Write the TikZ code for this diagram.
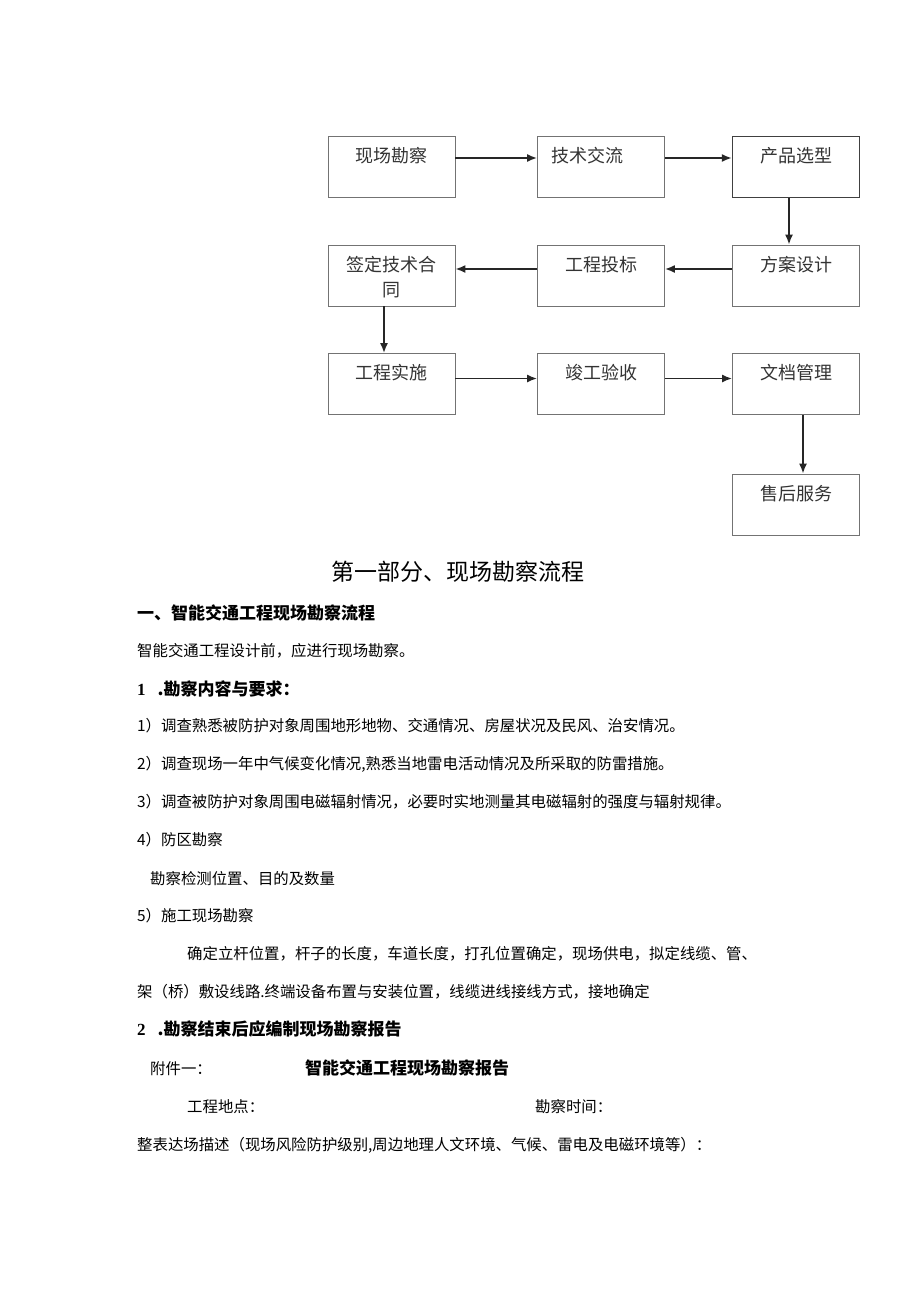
\documentclass[tikz,border=0pt]{standalone}
\usepackage{fontspec}
\setmainfont{Noto Sans CJK SC}
\newfontfamily\tms{Liberation Serif}
\usetikzlibrary{arrows.meta}

\begin{document}
\begin{tikzpicture}[x=1pt,y=-1pt,
    box/.style={draw=black!55, line width=0.8pt, minimum width=127pt, text width=100pt,
      align=center, inner xsep=2pt, inner ysep=4pt, text height=22pt, text depth=31pt,
      font=\fontsize{18}{25}\selectfont, text=black!80},
    arr/.style={-{Latex[length=10pt,width=8pt]}, line width=1.7pt, black!85},
    txt/.style={anchor=base west, inner sep=0pt, font=\fontsize{15.4}{18}\selectfont},
    hd/.style={anchor=base west, inner sep=0pt, font=\fontsize{17}{20}\selectfont\bfseries}]
      \useasboundingbox (0,0) rectangle (920,1301);

      % flow chart
      \node[box] (b1)  at (391.5, 167){现场勘察};
      \node[box] (b2)  at (601, 167){技术交流\kern28pt};
      \node[box, draw=black!75, line width=1.3pt] (b3)  at (796, 167){产品选型};
      \node[box] (b4)  at (391.5, 275.5){签定技术合\\同};
      \node[box] (b5)  at (601, 275.5){工程投标};
      \node[box] (b6)  at (796, 275.5){方案设计};
      \node[box] (b7)  at (391.5, 384){工程实施};
      \node[box] (b8)  at (601, 384){竣工验收};
      \node[box] (b9)  at (796, 384){文档管理};
      \node[box] (b10) at (796, 504.5){售后服务};

      \draw[arr] ([yshift=9]b1.east) -- ([yshift=9]b2.west);
      \draw[arr] ([yshift=9]b2.east) -- ([yshift=9]b3.west);
      \draw[arr] ([xshift=-7]b3.south) -- ([xshift=-7]b6.north);
      \draw[arr] ([yshift=6.5]b6.west) -- ([yshift=6.5]b5.east);
      \draw[arr] ([yshift=6.5]b5.west) -- ([yshift=6.5]b4.east);
      \draw[arr] ([xshift=-7.5]b4.south) -- ([xshift=-7.5]b7.north);
      \draw[arr] ([yshift=5.5]b7.east) -- ([yshift=5.5]b8.west);
      \draw[arr] ([yshift=5.5]b8.east) -- ([yshift=5.5]b9.west);
      \draw[arr] ([xshift=7]b9.south) -- ([xshift=7]b10.north);

      % text
      \node[anchor=base, inner sep=0pt, font=\fontsize{23}{26}\selectfont] (title) at (458, 580){第一部分、现场勘察流程};
      \node[hd]  (h1) at (137, 619){一、智能交通工程现场勘察流程};
      \node[txt] (p1) at (137, 656.5){智能交通工程设计前，应进行现场勘察。};
      \node[hd]  (h2) at (137, 695){{\tms 1}\hspace{12pt}.勘察内容与要求：};
      \node[txt] (i1) at (137, 731.5){1）调查熟悉被防护对象周围地形地物、交通情况、房屋状况及民风、治安情况。};
      \node[txt] (i2) at (137, 769.5){2）调查现场一年中气候变化情况,熟悉当地雷电活动情况及所采取的防雷措施。};
      \node[txt] (i3) at (137, 807.5){3）调查被防护对象周围电磁辐射情况，必要时实地测量其电磁辐射的强度与辐射规律。};
      \node[txt] (i4) at (137, 845.5){4）防区勘察};
      \node[txt] (i4a) at (150, 884.5){勘察检测位置、目的及数量};
      \node[txt] (i5) at (137, 921.5){5）施工现场勘察};
      \node[txt] (i5a) at (187, 959.5){确定立杆位置，杆子的长度，车道长度，打孔位置确定，现场供电，拟定线缆、管、};
      \node[txt] (i5b) at (137, 997.5){架（桥）敷设线路.终端设备布置与安装位置，线缆进线接线方式，接地确定};
      \node[hd]  (h3) at (137, 1035){{\tms 2}\hspace{12pt}.勘察结束后应编制现场勘察报告};
      \node[txt] (a1) at (150, 1074.5){附件一：};
      \node[hd]  (a2) at (305, 1074.5){智能交通工程现场勘察报告};
      \node[txt] (a3) at (187, 1112.5){工程地点：};
      \node[txt] (a4) at (535, 1112.5){勘察时间：};
      \node[txt] (a5) at (137, 1150.5){整表达场描述（现场风险防护级别,周边地理人文环境、气候、雷电及电磁环境等）：};
    \end{tikzpicture}
\end{document}
